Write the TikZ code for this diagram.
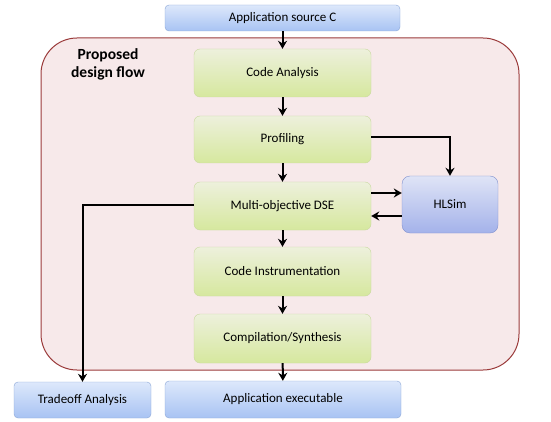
\documentclass[tikz,border=0pt]{standalone}
\usepackage{fontspec}
\setmainfont{Carlito}
\usetikzlibrary{arrows.meta}

\definecolor{flowred}{HTML}{9B3B3B}
\definecolor{flowpink}{HTML}{F7E9EA}
\definecolor{bluetop}{HTML}{DDE8FB}
\definecolor{bluebot}{HTML}{A8C3F3}
\definecolor{blueline}{HTML}{8AA6D6}
\definecolor{greentop}{HTML}{EDF0DC}
\definecolor{greenbot}{HTML}{D6E89E}
\definecolor{greenline}{HTML}{C9D9A0}
\definecolor{simtop}{HTML}{DFE4F6}
\definecolor{simbot}{HTML}{A4B2EA}
\definecolor{simline}{HTML}{8091CE}

\tikzset{
  iobox/.style={draw=blueline,rounded corners=4pt,top color=bluetop,bottom color=bluebot,
    minimum height=26pt,inner sep=0pt,font=\fontsize{13}{15}\selectfont},
  stepbox/.style={draw=greenline,rounded corners=6pt,top color=greentop,bottom color=greenbot,
    minimum width=177pt,minimum height=48pt,inner sep=0pt,font=\fontsize{13}{15}\selectfont},
  flow/.style={-{Stealth[length=8pt,width=9pt]},line width=2pt,black}
}

\begin{document}
\begin{tikzpicture}[x=1pt,y=-1pt]
\useasboundingbox (0,0) rectangle (551,422);
% design flow frame
\draw[flowred,fill=flowpink,line width=1pt,rounded corners=36pt] (41,38) rectangle (519,370);
\node[font=\bfseries\fontsize{15.5}{18}\selectfont,align=center] (title) at (108,64) {Proposed\\design flow};

\node[iobox,minimum width=235pt] (src) at (282.5,18) {Application source C};
\node[stepbox] (ca) at (282.5,73) {Code Analysis};
\node[stepbox,minimum height=47pt] (prof) at (282.5,139.5) {Profiling};
\node[stepbox] (dse) at (282.5,206) {Multi-objective DSE};
\node[stepbox,minimum height=49pt] (ci) at (282.5,271.5) {Code Instrumentation};
\node[stepbox,minimum height=49pt] (cs) at (282.5,338.5) {Compilation/Synthesis};
\node[draw=simline,rounded corners=8pt,top color=simtop,bottom color=simbot,
  minimum width=96pt,minimum height=57pt,inner sep=0pt,font=\fontsize{13}{15}\selectfont] (hls) at (450,204.5) {HLSim};
\node[iobox,minimum width=137pt,minimum height=36pt] (trade) at (82.5,400) {Tradeoff Analysis};
\node[iobox,minimum width=236pt,minimum height=37pt] (exe) at (283,399.5) {Application executable};

\draw[flow] (src) -- (ca);
\draw[flow] (ca) -- (prof);
\draw[flow] (prof) -- (dse);
\draw[flow] (dse) -- (ci);
\draw[flow] (ci) -- (cs);
\draw[flow] (cs) -- (exe);
\draw[flow] ([yshift=2pt]prof.east) -| (hls.north);
\draw[flow] ([yshift=13pt]dse.east) -- ([yshift=13pt]dse.east -| hls.west);
\draw[flow] ([yshift=-10pt]dse.east -| hls.west) -- ([yshift=-10pt]dse.east);
\draw[flow] ([yshift=1pt]dse.west) -| (trade.north);
\end{tikzpicture}
\end{document}
